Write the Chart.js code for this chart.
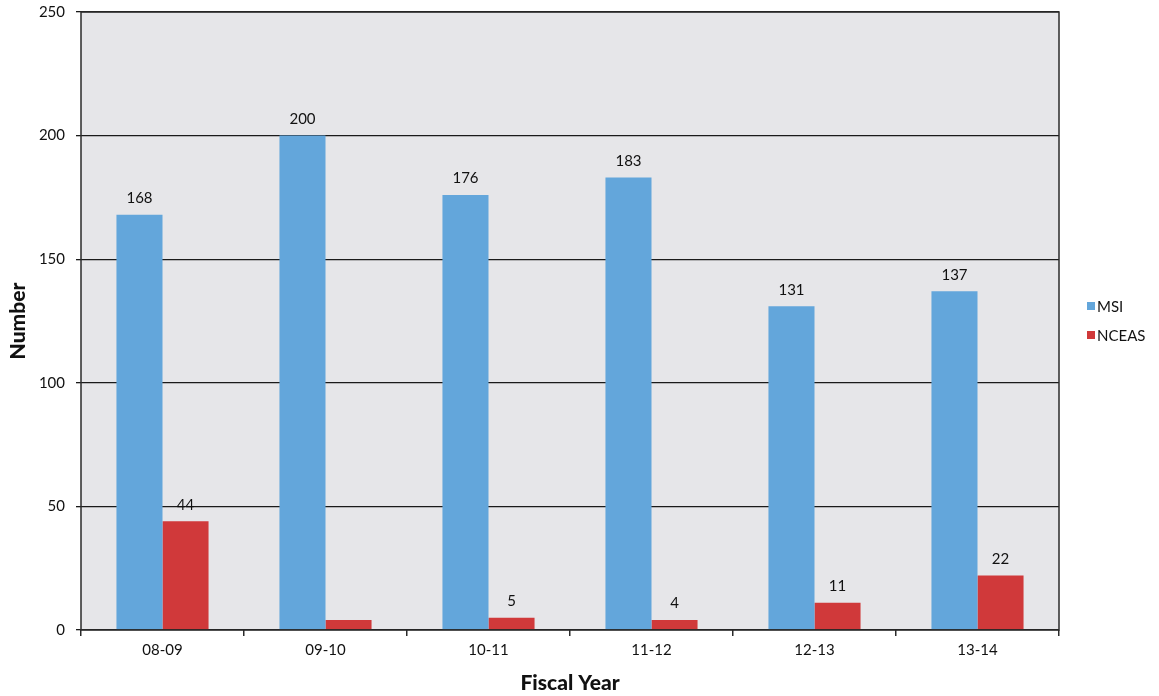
<!DOCTYPE html>
<html>
<head>
<meta charset="utf-8">
<title>MSI and NCEAS by Fiscal Year</title>
<script src="https://cdn.jsdelivr.net/npm/chart.js@4/dist/chart.umd.min.js"></script>
<style>
  html, body { margin: 0; padding: 0; background: #ffffff; }
  #wrap { width: 1159px; height: 696px; }
</style>
</head>
<body>
<div id="wrap"><canvas id="chart" width="1159" height="696"></canvas></div>
<script>
// Fiscal years on the x axis
const fiscalYears = ['08-09', '09-10', '10-11', '11-12', '12-13', '13-14'];
// Counts per year
const msiValues = [168, 200, 176, 183, 131, 137];
const nceasValues = [44, 4, 5, 4, 11, 22];
// Which bars carry a value label
const msiLabelShown = [true, true, true, true, true, true];
const nceasLabelShown = [true, false, true, true, true, true];
// Y axis range
const yMin = 0, yMax = 250, yStep = 50;

const FONT = 'Lato, "Open Sans", "DejaVu Sans", sans-serif';

// Grey panel behind the bars
const plotBackground = {
  id: 'plotBackground',
  beforeDraw(chart) {
    const { ctx, chartArea: a } = chart;
    ctx.save();
    ctx.fillStyle = '#e6e6e9';
    ctx.fillRect(a.left, a.top, a.right - a.left, a.bottom - a.top);
    ctx.restore();
  },
  afterDraw(chart) {
    const { ctx, chartArea: a } = chart;
    ctx.save();
    ctx.strokeStyle = '#2b2b2b';
    ctx.lineWidth = 1.5;
    ctx.strokeRect(a.left, a.top, a.right - a.left, a.bottom - a.top);
    ctx.restore();
  }
};

// Numbers above bars
const valueLabels = {
  id: 'valueLabels',
  afterDatasetsDraw(chart) {
    const { ctx } = chart;
    ctx.save();
    ctx.font = '15px ' + FONT;
    ctx.fillStyle = '#111';
    ctx.textAlign = 'center';
    ctx.textBaseline = 'bottom';
    chart.data.datasets.forEach((ds, di) => {
      const meta = chart.getDatasetMeta(di);
      meta.data.forEach((bar, i) => {
        if (!ds.labelShown[i]) return;
        ctx.fillText(String(ds.data[i]), bar.x, bar.y - 9);
      });
    });
    ctx.restore();
  }
};

// Legend at the right of the panel
const sideLegend = {
  id: 'sideLegend',
  afterDraw(chart) {
    const { ctx } = chart;
    ctx.save();
    ctx.font = '15px ' + FONT;
    ctx.textBaseline = 'middle';
    ctx.textAlign = 'left';
    chart.data.datasets.forEach((ds, i) => {
      const y = 306 + i * 29;
      ctx.fillStyle = ds.backgroundColor;
      ctx.fillRect(1087, y - 4, 8, 8);
      ctx.fillStyle = '#111';
      ctx.fillText(ds.label, 1097, y + 1);
    });
    ctx.restore();
  }
};

new Chart(document.getElementById('chart'), {
  type: 'bar',
  data: {
    labels: fiscalYears,
    datasets: [
      { label: 'MSI', data: msiValues, labelShown: msiLabelShown,
        backgroundColor: '#63a6db', borderWidth: 0 },
      { label: 'NCEAS', data: nceasValues, labelShown: nceasLabelShown,
        backgroundColor: '#d0393a', borderWidth: 0 }
    ]
  },
  options: {
    responsive: false,
    animation: false,
    layout: { padding: { top: 12, right: 100, left: 6, bottom: 0 } },
    datasets: { bar: { categoryPercentage: 0.565, barPercentage: 1.0 } },
    plugins: {
      legend: { display: false },
      tooltip: { enabled: false }
    },
    scales: {
      x: {
        grid: { drawOnChartArea: false, drawTicks: true, tickLength: 6,
                color: '#2b2b2b', lineWidth: 1.5, offset: true },
        border: { display: false },
        ticks: { color: '#111', font: { family: FONT, size: 15 }, padding: 5 },
        title: { display: true, text: 'Fiscal Year', color: '#111',
                 font: { family: FONT, size: 21, weight: '900' }, padding: { top: 1, bottom: 0 } },
        afterFit(s) { s.height = 66; s.paddingLeft = 0; s.paddingRight = 0; }
      },
      y: {
        min: yMin, max: yMax,
        grid: { color: '#1a1a1a', lineWidth: 1.3, tickLength: 5, drawTicks: true },
        border: { display: false },
        ticks: { stepSize: yStep, color: '#111', font: { family: FONT, size: 15 }, padding: 11 },
        title: { display: true, text: 'Number', color: '#111',
                 font: { family: FONT, size: 21, weight: '900' }, padding: { top: 0, bottom: 0 } },
        afterFit(s) { s.width = 75; s.paddingTop = 0; s.paddingBottom = 0; }
      }
    }
  },
  plugins: [plotBackground, valueLabels, sideLegend]
});
</script>
</body>
</html>
